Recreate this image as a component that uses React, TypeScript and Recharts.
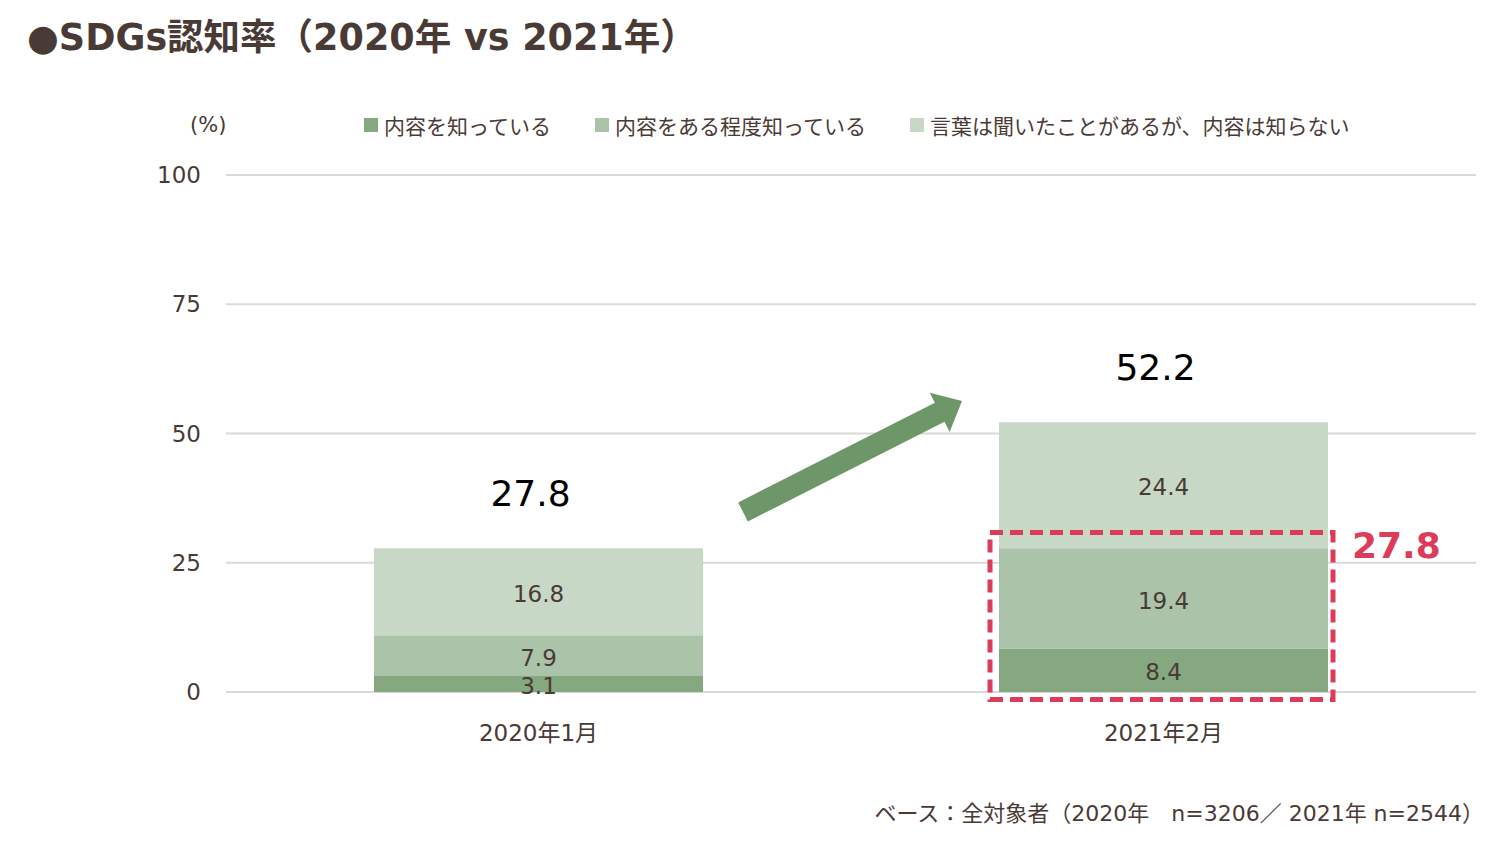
import React from 'react';
import {
  BarChart,
  Bar,
  XAxis,
  YAxis,
  CartesianGrid,
  LabelList,
  ReferenceLine,
} from 'recharts';

// ---- data ----
const categories = ['2020年1月', '2021年2月'];
const knowContent = [3.1, 8.4];
const knowSomewhat = [7.9, 19.4];
const heardOnly = [16.8, 24.4];
const seriesNames = ['内容を知っている', '内容をある程度知っている', '言葉は聞いたことがあるが、内容は知らない'];
const yTicks = [0, 25, 50, 75, 100];
const titleText = '●SDGs認知率（2020年 vs 2021年）';
const noteText = 'ベース：全対象者（2020年　n=3206／ 2021年 n=2544）';
const unitText = '(%)';

// annotation anchors (numeric x: category i centered at i + 0.5)
const boxFrom = { x: 1.2224, y: 30.85 };
const boxTo = { x: 1.7712, y: -1.45 };
const arrowFrom = { x: 0.8272, y: 34.82 };
const arrowTo = { x: 1.1776, y: 56.29 };

const colors = ['#86A880', '#ABC3A8', '#C8D8C6'];
const textColor = '#4A3A35';
const red = '#DC3C5A';
const arrowColor = '#6E9769';
const numFont = "'DejaVu Sans', 'Noto Sans CJK JP', sans-serif";
const jpFont = "'Noto Sans CJK JP', sans-serif";

const data = categories.map((c, i) => ({
  name: c,
  xi: i + 0.5,
  a: knowContent[i],
  b: knowSomewhat[i],
  c: heardOnly[i],
  total: +(knowContent[i] + knowSomewhat[i] + heardOnly[i]).toFixed(1),
}));

const highlightValue = (knowContent[1] + knowSomewhat[1]).toFixed(1);

const TotalLabel = (props: any) => {
  const { x, y, width, value } = props;
  return (
    <text
      x={x + width / 2 - 8}
      y={y - 42}
      textAnchor="middle"
      fontFamily={numFont}
      fontSize={36}
      fill="#000"
    >
      {Number(value).toFixed(1)}
    </text>
  );
};

// dashed highlight frame (diagonal segment -> rectangle) + its value
const FrameShape = (props: any) => {
  const { x1, y1, x2, y2 } = props;
  const left = Math.min(x1, x2);
  const right = Math.max(x1, x2);
  const top = Math.min(y1, y2);
  const bottom = Math.max(y1, y2);
  return (
    <g>
      <rect
        x={left}
        y={top}
        width={right - left}
        height={bottom - top}
        fill="none"
        stroke={red}
        strokeWidth={5}
        strokeDasharray="13 7"
      />
      <text
        x={right + 19}
        y={top + 25}
        textAnchor="start"
        fontFamily={numFont}
        fontWeight="bold"
        fontSize={36}
        fill={red}
      >
        {highlightValue}
      </text>
    </g>
  );
};

const ArrowShape = (props: any) => {
  const { x1, y1, x2, y2 } = props;
  const dx = x2 - x1;
  const dy = y2 - y1;
  const L = Math.hypot(dx, dy) || 1;
  const ux = dx / L;
  const uy = dy / L;
  const nx = -uy;
  const ny = ux;
  const sw = 10.7;
  const hw = 22;
  const hl = 25;
  const bx = x2 - ux * hl;
  const by = y2 - uy * hl;
  const pts = [
    [x1 + nx * sw, y1 + ny * sw],
    [bx + nx * sw, by + ny * sw],
    [bx + nx * hw, by + ny * hw],
    [x2, y2],
    [bx - nx * hw, by - ny * hw],
    [bx - nx * sw, by - ny * sw],
    [x1 - nx * sw, y1 - ny * sw],
  ];
  return <polygon points={pts.map((p) => p.join(',')).join(' ')} fill={arrowColor} />;
};

const segLabelStyle = { fill: textColor, fontSize: 23, fontFamily: numFont };

export default function App() {
  return (
    <div
      style={{
        position: 'absolute',
        left: 0,
        top: 0,
        width: 1510,
        height: 842,
        background: '#fff',
        overflow: 'hidden',
      }}
    >
      <div
        style={{
          position: 'absolute',
          left: 27,
          top: 13,
          fontFamily: numFont,
          fontWeight: 'bold',
          fontSize: 36.5,
          lineHeight: '50px',
          color: textColor,
          whiteSpace: 'nowrap',
        }}
      >
        {titleText}
      </div>

      <BarChart
        width={1510}
        height={842}
        data={data}
        margin={{ top: 175, right: 34, bottom: 90, left: 166 }}
        style={{ position: 'absolute', left: 0, top: 0 }}
      >
        <CartesianGrid vertical={false} stroke="#D9D9D9" strokeWidth={2} />
        <XAxis
          xAxisId="cat"
          dataKey="name"
          axisLine={false}
          tickLine={false}
          tickSize={0}
          tickMargin={33}
          height={60}
          tick={{ fill: textColor, fontSize: 23, fontFamily: numFont }}
        />
        <XAxis xAxisId="num" dataKey="xi" type="number" domain={[0, 2]} allowDataOverflow hide />
        <YAxis
          width={60}
          domain={[0, 100]}
          ticks={yTicks}
          axisLine={false}
          tickLine={false}
          tickSize={0}
          tickMargin={25}
          interval={0}
          tick={{ fill: textColor, fontSize: 23, fontFamily: numFont }}
        />
        <Bar xAxisId="cat" dataKey="a" name={seriesNames[0]} stackId="s" fill={colors[0]} barSize={329} isAnimationActive={false}>
          <LabelList dataKey="a" position="center" dy={2} style={segLabelStyle} />
        </Bar>
        <Bar xAxisId="cat" dataKey="b" name={seriesNames[1]} stackId="s" fill={colors[1]} barSize={329} isAnimationActive={false}>
          <LabelList dataKey="b" position="center" dy={2} style={segLabelStyle} />
        </Bar>
        <Bar xAxisId="cat" dataKey="c" name={seriesNames[2]} stackId="s" fill={colors[2]} barSize={329} isAnimationActive={false}>
          <LabelList dataKey="c" position="center" dy={2} style={segLabelStyle} />
          <LabelList dataKey="total" content={<TotalLabel />} />
        </Bar>
        <ReferenceLine
          xAxisId="num"
          segment={[arrowFrom, arrowTo]}
          ifOverflow="visible"
          zIndex={1500}
          shape={(p: any) => <ArrowShape {...p} />}
        />
        <ReferenceLine
          xAxisId="num"
          segment={[boxFrom, boxTo]}
          ifOverflow="visible"
          zIndex={1500}
          shape={(p: any) => <FrameShape {...p} />}
        />
      </BarChart>

      {/* unit + legend */}
      <div
        style={{
          position: 'absolute',
          left: 190,
          top: 110,
          fontFamily: numFont,
          fontSize: 21,
          lineHeight: '30px',
          color: textColor,
        }}
      >
        {unitText}
      </div>
      <div
        style={{
          position: 'absolute',
          left: 364,
          top: 110,
          display: 'flex',
          gap: 44,
          fontFamily: jpFont,
          fontSize: 21,
          lineHeight: '30px',
          color: textColor,
          whiteSpace: 'nowrap',
        }}
      >
        {seriesNames.map((n, i) => (
          <div key={n} style={{ display: 'flex', alignItems: 'center' }}>
            <span
              style={{ display: 'inline-block', width: 14, height: 14, background: colors[i], marginRight: 6 }}
            />
            <span>{n}</span>
          </div>
        ))}
      </div>

      <div
        style={{
          position: 'absolute',
          right: 26,
          top: 799,
          fontFamily: numFont,
          fontSize: 22,
          lineHeight: '30px',
          color: textColor,
          whiteSpace: 'nowrap',
        }}
      >
        {noteText}
      </div>
    </div>
  );
}
